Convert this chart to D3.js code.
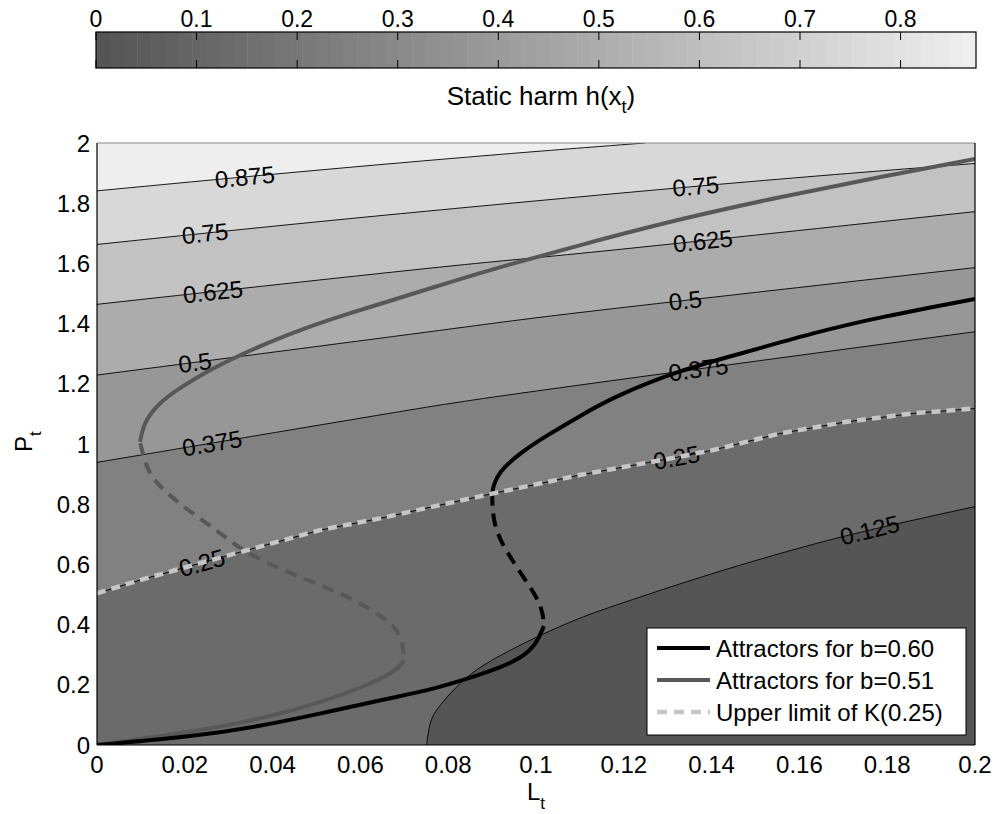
<!DOCTYPE html>
<html><head><meta charset="utf-8">
<script src="https://cdn.jsdelivr.net/npm/d3@7"></script>
<style>
body{margin:0;background:#fff}
text{font-family:"Liberation Sans",Arial,Helvetica,sans-serif;fill:#000}
</style>
</head><body>
<svg id="chart" width="996" height="814"></svg>
<script>
// ---------- data ----------
const levels = [0.125, 0.25, 0.375, 0.5, 0.625, 0.75, 0.875];
const xTicks = [0, 0.02, 0.04, 0.06, 0.08, 0.1, 0.12, 0.14, 0.16, 0.18, 0.2];
const yTicks = [0, 0.2, 0.4, 0.6, 0.8, 1, 1.2, 1.4, 1.6, 1.8, 2];
const cbTicks = [0, 0.1, 0.2, 0.3, 0.4, 0.5, 0.6, 0.7, 0.8];

// contour lines of h(x_t): [L, P]
const contour125 = [[0.0751,0],[0.0754,0.04],[0.0759,0.072],[0.0766,0.105],[0.0804,0.172],[0.0850,0.238],[0.0911,0.293],[0.1009,0.365],[0.1100,0.423],[0.1176,0.462],[0.1400,0.571],[0.1630,0.668],[0.1780,0.722],[0.2,0.792]];
const contour250 = [[0,0.504],[0.0098,0.548],[0.0235,0.604],[0.0371,0.659],[0.0508,0.714],[0.0645,0.753],[0.0781,0.797],[0.0903,0.836],[0.110,0.897],[0.1328,0.958],[0.1404,0.980],[0.1556,1.035],[0.1708,1.074],[0.186,1.102],[0.2,1.118]];
const contour375 = [[0,0.939],[0.0736,1.119],[0.0872,1.152],[0.2,1.373]];
const contour500 = [[0,1.229],[0.0918,1.403],[0.1009,1.423],[0.2,1.586]];
const contour625 = [[0,1.464],[0.0918,1.611],[0.1009,1.617],[0.2,1.772]];
const contour750 = [[0,1.663],[0.046,1.733],[0.0918,1.797],[0.15,1.875],[0.2,1.932]];
const contour875 = [[0,1.841],[0.046,1.905],[0.0918,1.963],[0.1248,2.0]];
const contours = [contour125, contour250, contour375, contour500, contour625, contour750, contour875];

// contour label positions (level index, L)
const contourLabels = [[0,0.176],[1,0.0239],[1,0.132],[2,0.0262],[2,0.137],[3,0.0223],[3,0.134],[4,0.0264],[4,0.138],[5,0.0246],[5,0.1364],[6,0.0337]];

// attractors, b = 0.60
const b60Stable1 = [[0,0],[0.0212,0.027],[0.0364,0.060],[0.0515,0.106],[0.0667,0.156],[0.0759,0.183],[0.0834,0.216],[0.0911,0.252],[0.0971,0.292],[0.1002,0.339],[0.1016,0.389],[0.1018,0.395]];
const b60Unstable = [[0.1018,0.395],[0.1016,0.439],[0.1002,0.492],[0.0971,0.558],[0.0941,0.625],[0.0918,0.681],[0.0902,0.748],[0.0900,0.831]];
const b60Stable2 = [[0.0900,0.831],[0.0902,0.857],[0.0911,0.890],[0.0925,0.920],[0.0964,0.970],[0.1023,1.027],[0.1100,1.093],[0.1176,1.156],[0.1328,1.246],[0.1481,1.306],[0.1631,1.369],[0.1784,1.422],[0.2,1.482]];
// attractors, b = 0.51
const b51Stable1 = [[0,0],[0.0212,0.043],[0.0364,0.083],[0.0515,0.143],[0.0629,0.206],[0.0683,0.249],[0.0697,0.276],[0.0699,0.282]];
const b51Unstable = [[0.0699,0.282],[0.0697,0.339],[0.0681,0.389],[0.0651,0.425],[0.0599,0.472],[0.0538,0.515],[0.0462,0.558],[0.0387,0.605],[0.0326,0.651],[0.0273,0.714],[0.0212,0.774],[0.0159,0.837],[0.0125,0.887],[0.0109,0.940],[0.0098,1.007]];
const b51Stable2 = [[0.0098,1.007],[0.0103,1.043],[0.0112,1.080],[0.0132,1.120],[0.0159,1.156],[0.0196,1.193],[0.0257,1.246],[0.0326,1.296],[0.0394,1.339],[0.0462,1.379],[0.0576,1.435],[0.0674,1.478],[0.0804,1.538],[0.0918,1.588],[0.110,1.661],[0.1328,1.748],[0.1556,1.821],[0.1784,1.887],[0.2,1.947]];
// upper limit of K(0.25) coincides with the 0.25 contour
const upperK = contour250;

const legendItems = ["Attractors for b=0.60", "Attractors for b=0.51", "Upper limit of K(0.25)"];

// ---------- drawing ----------
const svg = d3.select("#chart");
const x = d3.scaleLinear([0, 0.2], [97, 975]);
const y = d3.scaleLinear([0, 2], [745, 143]);
const cx = d3.scaleLinear([0, 0.875], [96, 976]);
const gray = d3.scaleLinear([0, 1], ["#555555", "#eeeeee"]).interpolate(d3.interpolateRgb);
const nColors = 64;
const cmap = v => gray(Math.min(nColors - 1, Math.floor(v / 0.875 * nColors)) / (nColors - 1));

// colorbar
const cb = svg.append("g");
cb.selectAll("rect.band").data(d3.range(nColors)).join("rect")
  .attr("x", i => cx(i * 0.875 / nColors)).attr("width", i => cx((i + 1) * 0.875 / nColors) - cx(i * 0.875 / nColors) + 0.5)
  .attr("y", 32).attr("height", 36).attr("fill", i => gray(i / (nColors - 1)));
cb.append("rect").attr("x", 96).attr("y", 32).attr("width", 880).attr("height", 36)
  .attr("fill", "none").attr("stroke", "#000").attr("stroke-width", 1.2);
cb.selectAll("line.t1").data(cbTicks).join("line").attr("x1", d => cx(d)).attr("x2", d => cx(d)).attr("y1", 32).attr("y2", 40).attr("stroke", "#000");
cb.selectAll("line.t2").data(cbTicks).join("line").attr("x1", d => cx(d)).attr("x2", d => cx(d)).attr("y1", 60).attr("y2", 68).attr("stroke", "#000");
cb.selectAll("text").data(cbTicks).join("text").attr("x", d => cx(d)).attr("y", 27)
  .attr("text-anchor", "middle").attr("font-size", 23).text(d => d3.format("")(d));
const cbl = svg.append("text").attr("x", 541).attr("y", 105).attr("text-anchor", "middle").attr("font-size", 26);
cbl.append("tspan").text("Static harm h(x");
cbl.append("tspan").attr("font-size", 18).attr("dy", 8).text("t");
cbl.append("tspan").attr("dy", -8).text(")");

// plot area
svg.append("clipPath").attr("id", "clip").append("rect").attr("x", 97).attr("y", 143).attr("width", 878).attr("height", 602);
const plot = svg.append("g").attr("clip-path", "url(#clip)");
plot.append("rect").attr("x", 97).attr("y", 143).attr("width", 878).attr("height", 602).attr("fill", cmap(0));

const smooth = d3.line().x(d => x(d[0])).y(d => y(d[1])).curve(d3.curveBasis);
const straight = d3.line().x(d => x(d[0])).y(d => y(d[1]));
const genFor = c => (c === contour250 ? straight : smooth);

contours.forEach((c, i) => {
  // region where h >= level: contour + upper-left boundary of the domain
  const d = genFor(c)(c) + `L${x(0.2)},${y(2)}L${x(0)},${y(2)}L${x(0)},${y(0)}Z`;
  plot.append("path").attr("d", d).attr("fill", cmap(levels[i]));
});
contours.forEach(c => {
  plot.append("path").attr("d", genFor(c)(c)).attr("fill", "none").attr("stroke", "#000").attr("stroke-width", 0.9);
});

// contour labels
function interpAt(c, L) {
  for (let k = 0; k < c.length - 1; k++) {
    if (L >= c[k][0] && L <= c[k + 1][0]) {
      const t = (L - c[k][0]) / (c[k + 1][0] - c[k][0]);
      return [c[k][1] + t * (c[k + 1][1] - c[k][1]), k];
    }
  }
  return [c[c.length - 1][1], c.length - 2];
}
contourLabels.forEach(([li, L]) => {
  const c = contours[li];
  const [P, k] = interpAt(c, L);
  const ang = Math.atan2(y(c[k + 1][1]) - y(c[k][1]), x(c[k + 1][0]) - x(c[k][0])) * 180 / Math.PI;
  plot.append("text").attr("transform", `translate(${x(L)},${y(P)}) rotate(${ang})`)
    .attr("text-anchor", "middle").attr("dy", "0.36em").attr("font-size", 24).text(levels[li]);
});

// attractor curves
const drawCurve = (data, color, w, dash, gen) => {
  const p = plot.append("path").attr("d", (gen || smooth)(data)).attr("fill", "none")
    .attr("stroke", color).attr("stroke-width", w).attr("stroke-linecap", "butt");
  if (dash) p.attr("stroke-dasharray", dash);
  return p;
};
drawCurve(b51Stable1, "#585858", 4);
drawCurve(b51Unstable, "#585858", 4, "12,8").attr("stroke-dashoffset", 14);
drawCurve(b51Stable2, "#585858", 4);
drawCurve(b60Stable1, "#000", 4);
drawCurve(b60Unstable, "#000", 4, "13,8").attr("stroke-dashoffset", 14);
drawCurve(b60Stable2, "#000", 4);
drawCurve(upperK, "#c6c6c6", 4.5, "9,6", straight);

// axes box
svg.append("line").attr("x1", 97).attr("x2", 975).attr("y1", 143).attr("y2", 143).attr("stroke", "#888").attr("stroke-width", 1);
svg.append("line").attr("x1", 975).attr("x2", 975).attr("y1", 143).attr("y2", 745).attr("stroke", "#000").attr("stroke-width", 1.2);
svg.append("line").attr("x1", 97).attr("x2", 97).attr("y1", 143).attr("y2", 745).attr("stroke", "#000").attr("stroke-width", 1.2);
svg.append("line").attr("x1", 97).attr("x2", 975).attr("y1", 745).attr("y2", 745).attr("stroke", "#000").attr("stroke-width", 1.2);

// tick labels
svg.append("g").selectAll("text").data(xTicks).join("text")
  .attr("x", d => x(d)).attr("y", 773).attr("text-anchor", "middle").attr("font-size", 24).text(d => d3.format("")(d));
svg.append("g").selectAll("text").data(yTicks).join("text")
  .attr("x", 90).attr("y", d => y(d)).attr("dy", "0.36em").attr("text-anchor", "end").attr("font-size", 24).text(d => d3.format("")(d));

// axis titles
const xl = svg.append("text").attr("x", 527).attr("y", 800).attr("font-size", 24);
xl.append("tspan").text("L");
xl.append("tspan").attr("font-size", 17).attr("dy", 9).text("t");
const yl = svg.append("text").attr("transform", "translate(32,452) rotate(-90)").attr("font-size", 24);
yl.append("tspan").text("P");
yl.append("tspan").attr("font-size", 17).attr("dy", 9).text("t");

// legend
const lg = svg.append("g");
lg.append("rect").attr("x", 647).attr("y", 628).attr("width", 319).attr("height", 107)
  .attr("fill", "#fff").attr("stroke", "#000").attr("stroke-width", 1);
const legStyles = [["#000", null, 4], ["#585858", null, 4], ["#c6c6c6", "10,7", 4.5]];
legendItems.forEach((t, i) => {
  const yy = 648 + i * 32;
  const l = lg.append("line").attr("x1", 657).attr("x2", 710).attr("y1", yy).attr("y2", yy)
    .attr("stroke", legStyles[i][0]).attr("stroke-width", legStyles[i][2]);
  if (legStyles[i][1]) l.attr("stroke-dasharray", legStyles[i][1]);
  lg.append("text").attr("x", 716).attr("y", yy + 9).attr("font-size", 24).text(t);
});
</script>
</body></html>
